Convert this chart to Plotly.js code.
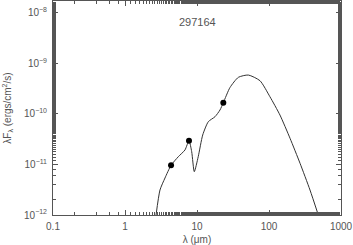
<!DOCTYPE html>
<html><head><meta charset="utf-8">
<script src="https://cdn.plot.ly/plotly-3.0.1.min.js"></script>
<style>html,body{margin:0;padding:0;background:#fff}#c{width:353px;height:245px}</style>
</head><body><div id="c"></div>
<script>
// SED model curve (wavelength in micron, lambda*F_lambda in ergs/cm^2/s)
const modelWave = [2.70, 3.06, 3.59, 4.36, 5.50, 6.81, 7.74, 8.44, 9.17, 10.4, 12.0, 14.35, 17.8, 20.85, 23.2, 28.7, 37.5, 51.6, 75, 103, 142, 196, 270, 371, 484];
const modelFlux = [1.0e-12, 3.12e-12, 5.38e-12, 9.6e-12, 1.42e-11, 1.93e-11, 2.94e-11, 1.78e-11, 7.18e-12, 1.42e-11, 3.81e-11, 6.98e-11, 8.77e-11, 1.19e-10, 1.66e-10, 3.31e-10, 5.26e-10, 5.84e-10, 4.51e-10, 2.18e-10, 9.46e-11, 3.28e-11, 1.05e-11, 3.12e-12, 1.0e-12];
// Observed photometry
const obsWave = [4.36, 7.74, 23.2];
const obsFlux = [9.6e-12, 2.94e-11, 1.66e-10];
const xTickVals = [0.1, 1, 10, 100, 1000];
const xTickText = ['0.1', '1', '10', '100', '1000'];
const yTickVals = [1e-12, 1e-11, 1e-10, 1e-9, 1e-8];
const yTickText = ['10<sup>−12</sup>', '10<sup>−11</sup>', '10<sup>−10</sup>', '10<sup>−9</sup>', '10<sup>−8</sup>'];
const titleText = '297164';

const axCol = '#555';
const fnt = 'Liberation Sans, Arial, sans-serif';
const txtCol = '#555';
const axisCommon = {
  type: 'log', showgrid: false, zeroline: false, showline: true, linecolor: axCol, linewidth: 1,
  mirror: 'allticks', ticks: 'inside', ticklen: 5, tickcolor: axCol, tickwidth: 1,
  tickfont: {family: fnt, size: 10, color: txtCol},
  minor: {ticks: 'inside', ticklen: 3, tickcolor: axCol, tickwidth: 1, showgrid: false}
};
const data = [
  {x: modelWave, y: modelFlux, mode: 'lines', line: {color: '#333', width: 1, shape: 'spline', smoothing: 0.6}, hoverinfo: 'skip', showlegend: false},
  {x: obsWave, y: obsFlux, mode: 'markers', marker: {color: '#000', size: 6}, showlegend: false}
];
const layout = {
  width: 353, height: 245,
  margin: {l: 53, r: 12, t: 1, b: 30},
  paper_bgcolor: '#fff', plot_bgcolor: '#fff',
  xaxis: Object.assign({}, axisCommon, {
    range: [-1, 3], tickvals: xTickVals, ticktext: xTickText, ticklabelstandoff: 2,
    title: {text: 'λ (μm)', font: {family: fnt, size: 10, color: txtCol}, standoff: 5}
  }),
  yaxis: Object.assign({}, axisCommon, {
    range: [-12, -7.77], tickvals: yTickVals, ticktext: yTickText,
    tickfont: {family: fnt, size: 10, color: txtCol}, ticklabelstandoff: 3,
    title: {text: 'λF<sub>λ</sub> (ergs/cm<sup>2</sup>/s)', font: {family: fnt, size: 10, color: txtCol}, standoff: 10}
  }),
  annotations: [{text: titleText, xref: 'paper', yref: 'paper', x: 0.5, y: 0.94, showarrow: false,
    font: {family: fnt, size: 11, color: txtCol}}]
};
Plotly.newPlot('c', data, layout, {displayModeBar: false, staticPlot: true});
</script></body></html>
